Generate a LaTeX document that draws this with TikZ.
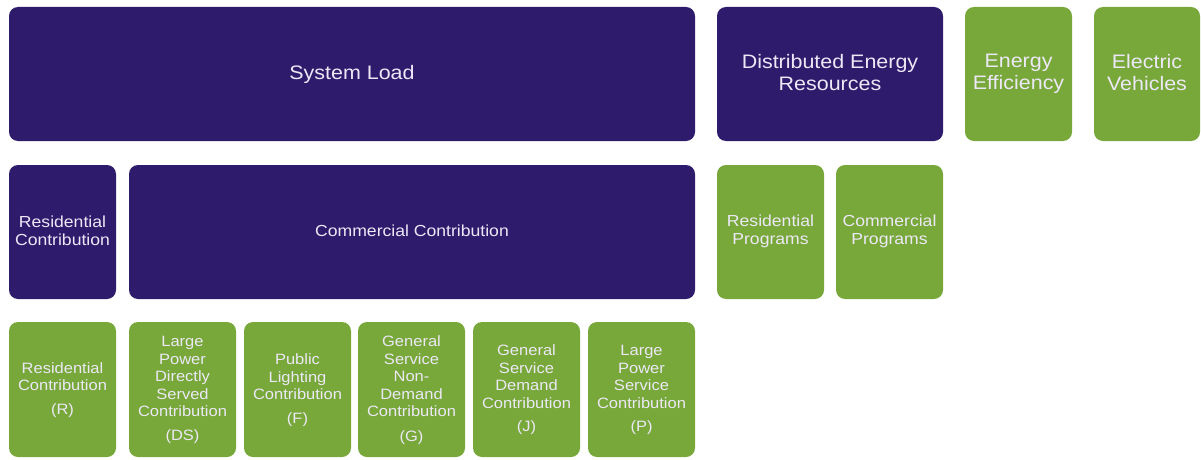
\documentclass[tikz,border=0pt]{standalone}
\usepackage{fontspec}
\setmainfont[FakeStretch=1.1]{Liberation Sans}
\definecolor{dpurple}{RGB}{47,27,108}
\definecolor{dgreen}{RGB}{120,168,58}
\definecolor{txt}{RGB}{236,232,246}
\begin{document}
\begin{tikzpicture}[x=1pt,y=-1pt,
  box/.style={rounded corners=9pt,text=txt,align=center,inner sep=0pt},
  pbox/.style={box,fill=dpurple},
  gbox/.style={box,fill=dgreen},
  big/.style={font=\fontsize{19.5}{22}\selectfont},
  mid/.style={font=\fontsize{16}{18}\selectfont},
  small/.style={font=\fontsize{15}{17.5}\selectfont}]
\useasboundingbox (0,0) rectangle (1201,460);
% row 1
\path[pbox] (9,7) rectangle (695,141);
\node[pbox,fill=none,big] (sysload) at (352,74) {System Load};
\path[pbox] (717,7) rectangle (943,141);
\node[pbox,fill=none,big] (der) at (830,73) {Distributed Energy\\Resources};
\path[gbox] (965,7) rectangle (1072,141);
\node[gbox,fill=none,big] (ee) at (1018.5,74) {Energy\\Efficiency};
\path[gbox] (1094,7) rectangle (1200,141);
\node[gbox,fill=none,big] (ev) at (1147,73) {Electric\\Vehicles};
% row 2
\path[pbox] (9,165) rectangle (116,299);
\node[pbox,fill=none,mid] (rescon) at (62.5,231) {Residential\\Contribution};
\path[pbox] (129,165) rectangle (695,299);
\node[pbox,fill=none,mid] (comcon) at (412,231) {Commercial Contribution};
\path[gbox] (717,165) rectangle (824,299);
\node[gbox,fill=none,mid] (resprog) at (770.5,231) {Residential\\Programs};
\path[gbox] (836,165) rectangle (943,299);
\node[gbox,fill=none,mid] (comprog) at (889.5,231) {Commercial\\Programs};
% row 3
\path[gbox] (9,322) rectangle (116,457);
\node[gbox,fill=none,small] (r) at (62.5,390) {Residential\\Contribution\\[6pt](R)};
\path[gbox] (129,322) rectangle (236,457);
\node[gbox,fill=none,small] (ds) at (182.5,390) {Large\\Power\\Directly\\Served\\Contribution\\[6pt](DS)};
\path[gbox] (244,322) rectangle (351,457);
\node[gbox,fill=none,small] (f) at (297.5,390) {Public\\Lighting\\Contribution\\[6pt](F)};
\path[gbox] (358,322) rectangle (465,457);
\node[gbox,fill=none,small] (g) at (411.5,390) {General\\Service\\Non-\\Demand\\Contribution\\[7pt](G)};
\path[gbox] (473,322) rectangle (580,457);
\node[gbox,fill=none,small] (j) at (526.5,390) {General\\Service\\Demand\\Contribution\\[6pt](J)};
\path[gbox] (588,322) rectangle (695,457);
\node[gbox,fill=none,small] (p) at (641.5,390) {Large\\Power\\Service\\Contribution\\[6pt](P)};
\end{tikzpicture}
\end{document}
